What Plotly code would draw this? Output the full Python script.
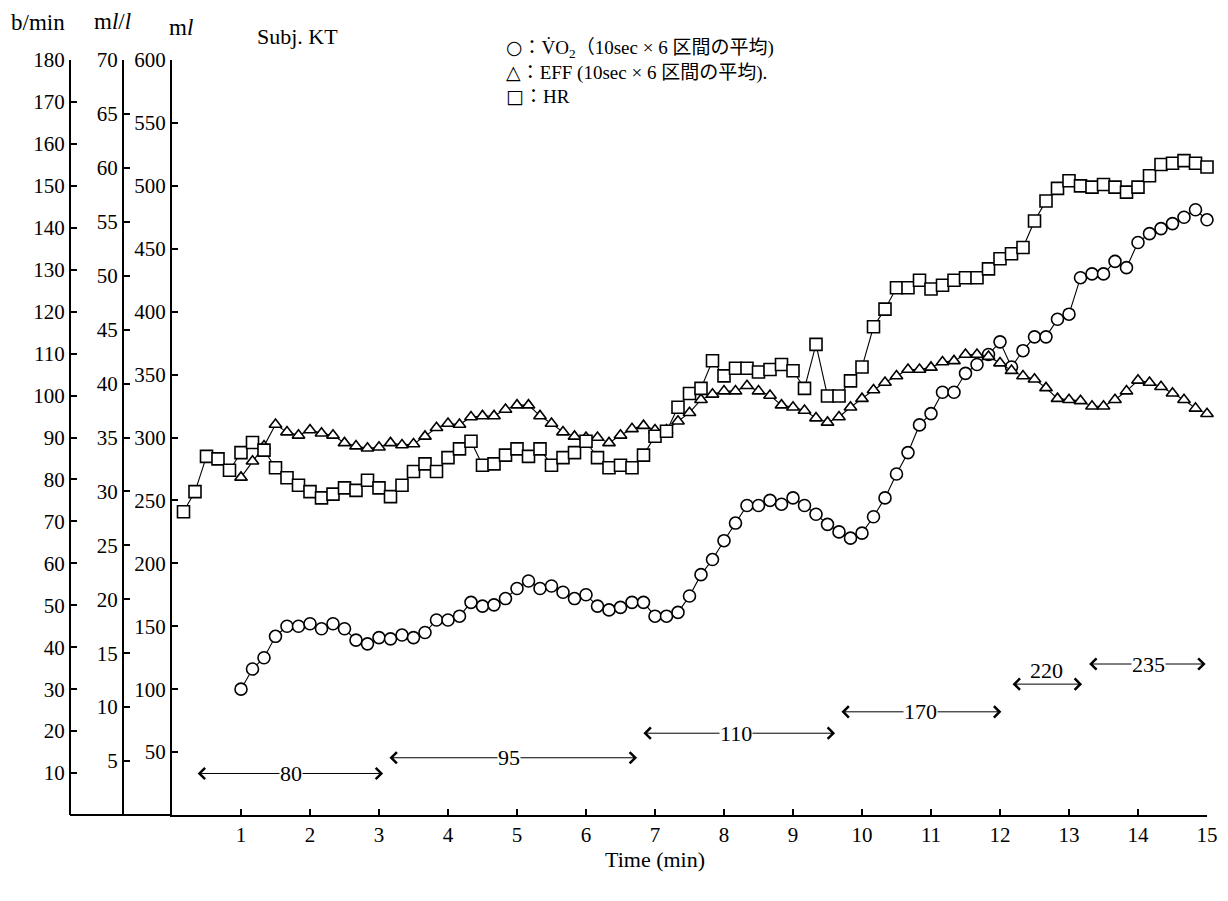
import plotly.graph_objects as go

# ---------------- data ----------------
hr_time_s = [10, 20, 30, 40, 50, 60, 70, 80, 90, 100, 110, 120, 130, 140, 150, 160, 170, 180,
             190, 200, 210, 220, 230, 240, 250, 260, 270, 280, 290, 300, 310, 320, 330, 340, 350, 360,
             370, 380, 390, 400, 410, 420, 430, 440, 450, 460, 470, 480, 490, 500, 510, 520, 530, 540,
             550, 560, 570, 580, 590, 600, 610, 620, 630, 640, 650, 660, 670, 680, 690, 700, 710, 720,
             730, 740, 750, 760, 770, 780, 790, 800, 810, 820, 830, 840, 850, 860, 870, 880, 890, 900]
hr_bpm = [72.3, 77.1, 85.5, 84.9, 82.2, 86.4, 88.8, 87.0, 82.8, 80.4, 78.6, 77.1, 75.6, 76.5, 78.0,
          77.4, 79.8, 78.0, 75.9, 78.6, 81.9, 83.7, 81.9, 85.2, 87.3, 89.1, 83.4,
          83.7, 85.8, 87.3, 85.5, 87.3, 83.4, 85.2, 86.4, 89.1, 85.2, 82.8, 83.4, 82.8, 85.8, 90.3,
          91.5, 97.2, 100.5, 101.7, 108.3, 104.7, 106.5, 106.5, 105.6, 106.2, 107.4, 105.9,
          101.7, 112.2, 99.9, 99.9, 103.5, 106.8, 116.4, 120.6, 125.7, 125.7, 127.5, 125.4, 126.3,
          127.5, 128.1, 128.1, 130.2, 132.6, 133.8, 135.3,
          141.6, 146.4, 149.4, 151.2, 150.0, 149.7, 150.3, 149.7, 148.5, 149.7, 152.4, 155.1,
          155.4, 156.0, 155.4, 154.5]

vo2_time_s = [60, 70, 80, 90, 100, 110, 120, 130, 140, 150, 160, 170, 180, 190, 200, 210, 220, 230,
              240, 250, 260, 270, 280, 290, 300, 310, 320, 330, 340, 350, 360, 370, 380, 390, 400, 410,
              420, 430, 440, 450, 460, 470, 480, 490, 500, 510, 520, 530, 540, 550, 560, 570, 580, 590,
              600, 610, 620, 630, 640, 650, 660, 670, 680, 690, 700, 710, 720, 730, 740, 750, 760, 770,
              780, 790, 800, 810, 820, 830, 840, 850, 860, 870, 880, 890, 900]
vo2_ml = [100, 116, 125, 142, 150, 150, 152, 148, 152, 148, 139, 136, 141, 140, 143, 141, 145, 155,
          155, 158, 169, 166,
          167, 172, 180, 186, 180, 182, 177, 172, 175, 166, 163, 165, 169, 169, 158, 158, 161, 174,
          191, 203, 218, 232, 246, 246, 250, 247, 252,
          246, 239, 231, 225, 220, 224, 237, 252, 271, 288, 310, 319, 336, 336, 351, 358, 366, 376,
          356, 369,
          380, 380, 394, 398, 427, 430, 430, 440, 435, 455, 462, 466, 470, 475, 481, 473]
eff_ml_per_l = [31.3, 32.8, 34.2, 36.2, 35.5, 35.2, 35.7, 35.4, 35.2, 34.5, 34.2, 34.0, 34.1, 34.5,
                34.3, 34.4, 35.1, 35.9, 36.3, 36.2, 36.9, 37.0,
                37.0, 37.6, 38.0, 38.0, 37.0, 36.3, 35.5, 35.1, 35.0, 35.0, 34.5, 35.2, 35.8, 36.1,
                35.7, 35.7, 36.5, 37.3, 38.5, 39.0, 39.3, 39.3, 39.8, 39.3, 38.9, 38.0, 37.8,
                37.5, 36.8, 36.4, 36.9, 37.8, 38.6, 39.4, 40.1, 40.7, 41.3, 41.3, 41.5, 42.0, 42.1,
                42.7, 42.7, 42.5, 41.9, 41.2, 40.7,
                40.4, 39.6, 38.6, 38.5, 38.4, 37.9, 37.9, 38.5, 39.3, 40.3, 40.1, 39.7, 39.1, 38.5,
                37.7, 37.2]

load_labels = ["80", "95", "110", "170", "220", "235"]
load_start_min = [0.35, 3.13, 6.81, 9.68, 12.16, 13.27]
load_end_min = [3.06, 6.74, 9.61, 12.02, 13.19, 14.98]

x_ticks = list(range(1, 16))
hr_ticks = list(range(10, 181, 10))
eff_ticks = list(range(5, 71, 5))
vo2_ticks = list(range(50, 601, 50))

# ---------------- placement / style ----------------
# the page body has an 8px margin: work in reference-pixel coordinates
OFF = 8
W, H = 1212, 885
PLOT_L, PLOT_R, PLOT_T, PLOT_B = 172, 1207, 60, 815      # reference pixels
ML = 0
MR = W - (PLOT_R - OFF)
MT = PLOT_T - OFF
MB = H - (PLOT_B - OFF)
PW = W - ML - MR
PH = H - MT - MB


def px(x):
    return (x - OFF - ML) / PW


def py(y):
    return (PLOT_B - y) / PH


FONT = "Liberation Serif, Times New Roman, Noto Sans CJK JP, serif"
SYM = "font-family:DejaVu Sans;font-size:19px"
# vertical row (in ml units of the VO2 axis) and label x for each load arrow
load_row_ml = [33, 45.5, 65, 82, 104, 120]
load_label_t = [1.73, 4.89, 8.17, 10.85, 12.68, 14.15]
load_label_above = [False, False, False, False, True, False]

hr_t = [s / 60 for s in hr_time_s]
vo2_t = [s / 60 for s in vo2_time_s]

LW = 1.6
fig = go.Figure()
fig.add_trace(go.Scatter(x=vo2_t, y=vo2_ml, mode="lines+markers", yaxis="y",
                         line=dict(color="black", width=1.1),
                         marker=dict(symbol="circle", color="white", size=12,
                                     line=dict(color="black", width=LW)),
                         cliponaxis=False, name="VO2"))
fig.add_trace(go.Scatter(x=vo2_t, y=eff_ml_per_l, mode="lines+markers", yaxis="y2",
                         line=dict(color="black", width=1.1),
                         marker=dict(symbol="triangle-up", color="white", size=11,
                                     line=dict(color="black", width=LW)),
                         cliponaxis=False, name="EFF"))
fig.add_trace(go.Scatter(x=hr_t, y=hr_bpm, mode="lines+markers", yaxis="y3",
                         line=dict(color="black", width=1.1),
                         marker=dict(symbol="square", color="white", size=12,
                                     line=dict(color="black", width=LW)),
                         cliponaxis=False, name="HR"))

tickfont = dict(family=FONT, size=21, color="black")
common_y = dict(showline=True, linecolor="black", linewidth=2, ticks="inside", ticklen=6,
                tickwidth=1.5, tickcolor="black", showgrid=False, zeroline=False,
                tickfont=tickfont, automargin=False, side="left", fixedrange=True)

fig.update_layout(
    width=W, height=H, margin=dict(l=ML, r=MR, t=MT, b=MB),
    paper_bgcolor="white", plot_bgcolor="white", showlegend=False,
    font=dict(family=FONT, color="black"),
    xaxis=dict(domain=[px(PLOT_L), 1], range=[0, 15], tickvals=x_ticks,
               showline=True, linecolor="black", linewidth=2, ticks="inside", ticklen=6,
               tickwidth=1.5, tickcolor="black", showgrid=False, zeroline=False,
               tickfont=tickfont, anchor="y", automargin=False),
    yaxis=dict(range=[0, 600], tickvals=vo2_ticks, anchor="x", **common_y),
    yaxis2=dict(range=[0, 70], tickvals=eff_ticks, overlaying="y", anchor="free",
                position=px(123), **common_y),
    yaxis3=dict(range=[0, 180], tickvals=hr_ticks, overlaying="y", anchor="free",
                position=px(70), **common_y),
)

# baseline extending left to the heart-rate axis
fig.add_shape(type="line", xref="paper", yref="paper", x0=px(70), x1=px(PLOT_L), y0=0, y1=0,
              line=dict(color="black", width=2))

ann = []


def txt(text, x, y, size, xanchor="center", align="center"):
    return dict(text=text, x=px(x), y=py(y), xref="paper", yref="paper",
                xanchor=xanchor, yanchor="middle", align=align, showarrow=False,
                font=dict(family=FONT, size=size))


# unit titles
ann.append(txt("b/min", 38, 22, 23))
ann.append(txt("m<i>l</i>/<i>l</i>", 112, 21, 23))
ann.append(txt("m<i>l</i>", 181, 28, 23))
ann.append(txt("Subj. KT", 297, 37, 22))
# legend text (one block, three lines)
leg = [f"<span style='{SYM}'>○</span>：V̇O<sub>2</sub>（10sec × 6 区間の平均)",
       f"<span style='{SYM}'>△</span>：EFF (10sec × 6 区間の平均).",
       f"<span style='{SYM}'>□</span>：HR"]
ann.append(txt("<br>".join(leg), 504, 71, 19, xanchor="left", align="left"))
ann.append(txt("Time (min)", 655, 859, 22))

# work-load arrows
for lab, s, e, row, lt, above in zip(load_labels, load_start_min, load_end_min,
                                     load_row_ml, load_label_t, load_label_above):
    ann.append(dict(x=e, y=row, ax=s, ay=row, xref="x", yref="y", axref="x", ayref="y",
                    text="", showarrow=True, arrowside="end+start", arrowhead=4,
                    startarrowhead=4, arrowsize=2.2, startarrowsize=2.2, arrowwidth=1,
                    arrowcolor="black"))
    ann.append(dict(x=lt, y=row + (11 if above else 0), xref="x", yref="y", text=lab,
                    showarrow=False, yanchor="middle",
                    bgcolor="rgba(0,0,0,0)" if above else "white",
                    borderpad=0, font=dict(family=FONT, size=22)))
fig.update_layout(annotations=ann)

fig.write_html("out.html")
